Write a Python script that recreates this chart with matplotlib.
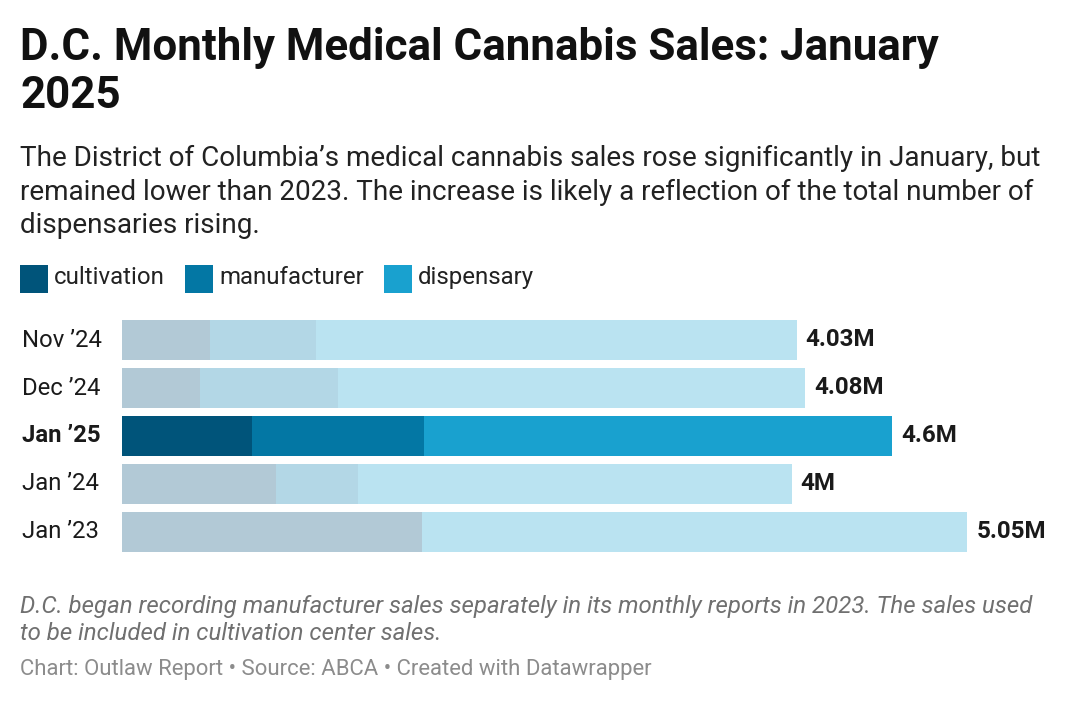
import matplotlib
matplotlib.use("Agg")
import matplotlib.pyplot as plt
from matplotlib.patches import Rectangle

# data (millions of $)
months = ["Nov \u201924", "Dec \u201924", "Jan \u201925", "Jan \u201924", "Jan \u201923"]
cultivation = [0.526, 0.466, 0.777, 0.920, 1.792]
manufacturer = [0.633, 0.824, 1.027, 0.490, 0.0]
totals = [4.03, 4.08, 4.60, 4.00, 5.05]
total_labels = ["4.03M", "4.08M", "4.6M", "4M", "5.05M"]
series_names = ["cultivation", "manufacturer", "dispensary"]
highlight = "Jan \u201925"

dispensary = [t - c - m for t, c, m in zip(totals, cultivation, manufacturer)]

full_colors = ["#00547a", "#0377a4", "#19a1cf"]
faded_colors = ["#b2c9d6", "#b3d7e6", "#bae3f1"]

W, H = 1068, 706
plt.rcParams["font.family"] = ["Roboto", "DejaVu Sans"]
fig = plt.figure(figsize=(W / 100, H / 100), dpi=100)


def fy(y):
    return 1 - y / H


def fx(x):
    return x / W


# title + subtitle
fig.text(fx(20), fy(60), "D.C. Monthly Medical Cannabis Sales: January", fontsize=31.6,
         fontweight="bold", color="#111111", va="baseline")
fig.text(fx(20), fy(108), "2025", fontsize=31.6, fontweight="bold", color="#111111", va="baseline")
sub = ["The District of Columbia\u2019s medical cannabis sales rose significantly in January, but",
       "remained lower than 2023. The increase is likely a reflection of the total number of",
       "dispensaries rising."]
for i, line in enumerate(sub):
    fig.text(fx(20), fy(166 + i * 33.5), line, fontsize=20.1, color="#222222", va="baseline")

# legend
leg_x = [20, 185, 384]
for x, name, c in zip(leg_x, series_names, full_colors):
    fig.patches.append(Rectangle((fx(x), fy(293)), 28 / W, 28 / H, transform=fig.transFigure,
                                 facecolor=c, edgecolor="none"))
    fig.text(fx(x + 34), fy(278), name, fontsize=17.3, color="#222222", va="center")

# bars
px_per_m = 167.4
x0, x1 = 122, W
ax = fig.add_axes([fx(x0), fy(552), (x1 - x0) / W, 232 / H])
ax.set_xlim(0, (x1 - x0) / px_per_m)
ax.set_ylim(4 + 0.5 * 40 / 48, -0.5 * 40 / 48)
ax.axis("off")

ypos = list(range(len(months)))
h = 40 / 48
for i, m in enumerate(months):
    cols = full_colors if m == highlight else faded_colors
    left = 0
    for val, c in zip([cultivation[i], manufacturer[i], dispensary[i]], cols):
        ax.barh(ypos[i], val, left=left, height=h, color=c, edgecolor="none", clip_on=False)
        left += val
    ax.text(totals[i] + 9 / px_per_m, ypos[i], total_labels[i], fontsize=17.4, fontweight="bold",
            color="#1a1a1a", va="center", ha="left", clip_on=False)
    fig.text(fx(22), fy(340 + 48 * i), m, fontsize=17.2, color="#1a1a1a", va="center",
             fontweight="bold" if m == highlight else "normal")

# notes
fig.text(fx(20), fy(606), "D.C. began recording manufacturer sales separately in its monthly reports in 2023. "
         "The sales used", fontsize=17.3, style="italic", color="#707070", va="center")
fig.text(fx(20), fy(634), "to be included in cultivation center sales.", fontsize=17.3, style="italic",
         color="#707070", va="center")
fig.text(fx(20), fy(670), "Chart: Outlaw Report \u2022 Source: ABCA \u2022 Created with Datawrapper",
         fontsize=15.9, color="#8c8c8c", va="center")

fig.savefig("out.png", dpi=100, facecolor="white")
